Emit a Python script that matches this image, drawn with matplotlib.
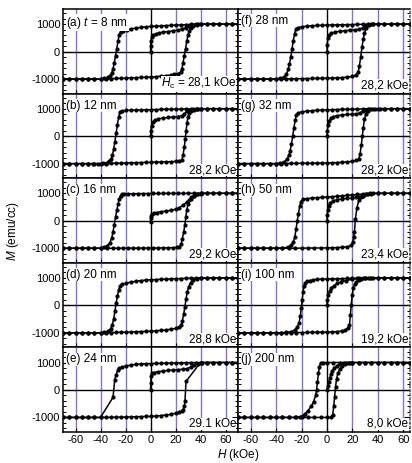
import matplotlib
matplotlib.use("Agg")
import matplotlib.pyplot as plt
from matplotlib.ticker import MultipleLocator

plt.rcParams['font.family'] = ['Liberation Sans', 'DejaVu Sans']
plt.rcParams['mathtext.fontset'] = 'custom'
plt.rcParams['mathtext.rm'] = 'Liberation Sans'
plt.rcParams['mathtext.it'] = 'Liberation Sans:italic'
plt.rcParams['axes.unicode_minus'] = False

# ---- data, (H kOe, M emu/cc) ----
# (a) 8 nm
a_down = [(70,1000),(65,1000),(60,1000),(55,1000),(50,1000),(45,1000),(40,1000),(36,998),(32,990),(28,980),(24,972),(20,965),(16,955),(12,945),(8,935),(4,925),(0,915),(-4,900),(-8,880),(-12,855),(-16,820),(-19,790),(-22,760),(-24,720),(-25,620),(-26,380),(-27,100),(-28,-150),(-29,-420),(-30,-630),(-31,-780),(-32.5,-880),(-34,-940),(-37,-980),(-40,-1000),(-45,-1000),(-50,-1000),(-55,-1000),(-60,-1000),(-65,-1000),(-70,-1000)]
a_up = [(-70,-1000),(-65,-1000),(-60,-1000),(-55,-1000),(-50,-1000),(-45,-1000),(-40,-1000),(-36,-998),(-32,-990),(-28,-980),(-24,-972),(-20,-965),(-16,-958),(-12,-950),(-8,-942),(-4,-935),(0,-925),(4,-915),(8,-900),(12,-880),(16,-855),(19,-830),(22,-800),(24,-760),(25,-650),(26,-420),(27,-150),(28,100),(29,380),(30,600),(31,760),(32.5,870),(34,930),(37,975),(40,1000),(45,1000),(50,1000),(55,1000),(60,1000),(65,1000),(70,1000)]
a_init = [(0,0),(0.2,200),(0.5,400),(1,520),(2,590),(4,640),(7,680),(10,705),(14,730),(18,755),(22,785),(25,820),(28,870),(31,930),(34,975),(38,1000)]

# (b) 12 nm
b_down = [(70,1000),(65,1000),(60,1000),(55,1000),(50,1000),(45,1000),(40,1000),(36,998),(32,995),(28,990),(24,988),(20,985),(16,982),(12,978),(8,975),(4,970),(0,965),(-4,960),(-8,955),(-12,950),(-16,945),(-20,935),(-23,920),(-24.5,880),(-25.5,700),(-26.5,400),(-27.5,100),(-28.5,-200),(-29.5,-480),(-30.5,-700),(-31.5,-840),(-33,-920),(-35,-960),(-38,-990),(-42,-1000),(-46,-1000),(-50,-1000),(-55,-1000),(-60,-1000),(-65,-1000),(-70,-1000)]
b_up = [(-70,-1000),(-65,-1000),(-60,-1000),(-55,-1000),(-50,-1000),(-45,-1000),(-40,-1000),(-36,-995),(-32,-990),(-28,-985),(-24,-980),(-20,-975),(-16,-970),(-12,-965),(-8,-960),(-4,-955),(0,-950),(4,-945),(8,-940),(12,-935),(16,-930),(20,-920),(23,-905),(25,-870),(26,-700),(27,-400),(27.8,-100),(28.5,200),(29.2,480),(30,700),(31,850),(32.5,930),(34.5,970),(37,990),(40,1000),(45,1000),(50,1000),(55,1000),(60,1000),(65,1000),(70,1000)]
b_init = [(0,0),(0.3,200),(0.8,380),(1.8,500),(3.5,580),(6,630),(10,660),(14,680),(18,695),(22,715),(25,750),(27,810),(29,900),(31,960),(34,995),(38,1000)]

# (c) 16 nm
c_down = [(70,1000),(65,1000),(60,1000),(55,1000),(50,1000),(45,1000),(40,1000),(35,1000),(30,1000),(26,998),(22,998),(18,997),(14,996),(10,995),(6,994),(2,993),(-2,992),(-6,990),(-10,988),(-14,985),(-18,980),(-21,975),(-23,960),(-24,920),(-25,800),(-26,600),(-27,380),(-28,120),(-29,-150),(-30,-400),(-31,-620),(-32.5,-800),(-34.5,-910),(-37,-965),(-40,-1000),(-45,-1000),(-50,-1000),(-55,-1000),(-60,-1000),(-65,-1000),(-70,-1000)]
c_up = [(-70,-1000),(-65,-1000),(-60,-1000),(-55,-1000),(-50,-1000),(-45,-1000),(-40,-1000),(-35,-1000),(-30,-1000),(-26,-998),(-22,-998),(-18,-997),(-14,-996),(-10,-995),(-6,-994),(-2,-993),(2,-992),(6,-990),(10,-988),(14,-985),(18,-980),(21,-972),(23,-950),(24.5,-850),(25.5,-650),(26.5,-420),(27.5,-150),(28.3,150),(29,400),(30,600),(31,740),(32.5,850),(34.5,920),(37,965),(40,990),(45,1000),(50,1000),(55,1000),(60,1000),(65,1000),(70,1000)]
c_init = [(0,-30),(0.2,100),(0.6,190),(1.5,240),(3,280),(5,300),(8,325),(12,350),(16,380),(20,420),(23,480),(26,570),(29,680),(32,790),(35,900),(38,970),(41,1000)]

# (d) 20 nm
d_down = [(70,1000),(65,1000),(60,1000),(55,1000),(50,1000),(45,1000),(40,1000),(36,995),(32,990),(28,985),(24,978),(20,970),(16,962),(12,955),(8,948),(4,940),(0,932),(-4,920),(-8,900),(-12,875),(-16,845),(-20,805),(-23,760),(-24.5,700),(-25.5,550),(-26.5,330),(-27.5,80),(-28.5,-220),(-29.5,-500),(-30.5,-700),(-32,-850),(-34,-940),(-37,-985),(-40,-1000),(-45,-1000),(-50,-1000),(-55,-1000),(-60,-1000),(-65,-1000),(-70,-1000)]
d_up = [(-70,-1000),(-65,-1000),(-60,-1000),(-55,-1000),(-50,-1000),(-45,-1000),(-40,-1000),(-36,-995),(-32,-990),(-28,-985),(-24,-980),(-20,-975),(-16,-970),(-12,-962),(-8,-955),(-4,-948),(0,-940),(4,-928),(8,-912),(12,-895),(16,-870),(20,-840),(23,-790),(24.5,-720),(25.5,-560),(26.5,-330),(27.5,-50),(28.5,250),(29.5,500),(30.5,680),(32,820),(34,920),(37,975),(40,1000),(45,1000),(50,1000),(55,1000),(60,1000),(65,1000),(70,1000)]
d_init = []

# (e) 24 nm
e_down = [(70,1000),(65,1000),(60,1000),(55,1000),(50,1000),(45,1000),(40,1000),(36,998),(32,995),(28,992),(24,988),(20,985),(16,980),(12,975),(8,970),(4,965),(0,960),(-4,955),(-8,945),(-12,930),(-16,905),(-20,870),(-23,830),(-25,790),(-26,740),(-27.5,560),(-28.6,370),(-30,-270),(-40,-1000),(-45,-1000),(-50,-1000),(-55,-1000),(-60,-1000),(-65,-1000),(-70,-1000)]
e_up = [(-70,-1000),(-65,-1000),(-60,-1000),(-55,-1000),(-50,-1000),(-45,-1000),(-40,-1000),(-36,-998),(-32,-995),(-28,-992),(-24,-988),(-20,-985),(-16,-980),(-12,-975),(-8,-970),(-4,-965),(0,-960),(4,-950),(8,-935),(12,-915),(16,-890),(20,-850),(23,-800),(25,-770),(26,-730),(27,-600),(27.6,-390),(28.4,310),(40,1000),(45,1000),(50,1000),(55,1000),(60,1000),(65,1000),(70,1000)]
e_init = [(0,0),(0.2,250),(0.6,500),(1.5,600),(3,635),(6,665),(10,690),(14,710),(18,725),(22,740),(26,755),(29,775),(32,830),(35,900),(38,960),(41,1000)]

# (f) 28 nm
f_down = [(70,1000),(65,1000),(60,1000),(55,1000),(50,1000),(45,1000),(40,1000),(36,998),(32,995),(28,992),(24,988),(20,985),(16,980),(12,976),(8,972),(4,968),(0,963),(-4,957),(-8,950),(-12,940),(-16,925),(-20,900),(-23,870),(-24.5,820),(-25.5,650),(-26.5,400),(-27.5,100),(-28.5,-200),(-29.5,-450),(-30.5,-650),(-32,-830),(-34,-930),(-37,-980),(-40,-1000),(-45,-1000),(-50,-1000),(-55,-1000),(-60,-1000),(-65,-1000),(-70,-1000)]
f_up = [(-70,-1000),(-65,-1000),(-60,-1000),(-55,-1000),(-50,-1000),(-45,-1000),(-40,-1000),(-36,-998),(-32,-995),(-28,-992),(-24,-988),(-20,-985),(-16,-982),(-12,-978),(-8,-975),(-4,-972),(0,-968),(4,-962),(8,-955),(12,-945),(16,-930),(20,-905),(23,-850),(24.5,-760),(25.5,-520),(26.5,-200),(27.5,150),(28.5,450),(29.5,680),(31,860),(33,950),(36,990),(40,1000),(45,1000),(50,1000),(55,1000),(60,1000),(65,1000),(70,1000)]
f_init = [(0,0),(0.2,250),(0.6,480),(1.5,600),(3,660),(6,710),(10,740),(14,760),(18,775),(22,790),(25,810),(28,860),(30,920),(32,970),(35,1000)]

# (g) 32 nm
g_down = [(70,1000),(65,1000),(60,1000),(55,1000),(50,1000),(45,1000),(40,1000),(36,998),(32,995),(28,992),(24,988),(20,985),(16,980),(12,976),(8,970),(4,965),(0,960),(-4,952),(-8,942),(-12,928),(-16,910),(-20,885),(-22.5,850),(-24,780),(-25,600),(-26,300),(-27,0),(-28,-300),(-29,-530),(-30,-700),(-31.5,-840),(-33.5,-930),(-37,-980),(-40,-1000),(-45,-1000),(-50,-1000),(-55,-1000),(-60,-1000),(-65,-1000),(-70,-1000)]
g_up = [(-70,-1000),(-65,-1000),(-60,-1000),(-55,-1000),(-50,-1000),(-45,-1000),(-40,-1000),(-36,-998),(-32,-995),(-28,-992),(-24,-990),(-20,-988),(-16,-985),(-12,-982),(-8,-980),(-4,-978),(0,-975),(4,-968),(8,-960),(12,-950),(16,-938),(20,-915),(23,-880),(25,-830),(26,-650),(27,-330),(27.8,0),(28.5,300),(29.5,620),(30.5,800),(32,920),(34.5,975),(38,995),(42,1000),(46,1000),(50,1000),(55,1000),(60,1000),(65,1000),(70,1000)]
g_init = [(0,0),(0.3,200),(0.8,400),(1.8,560),(3.2,650),(5,710),(8,750),(12,775),(16,790),(20,800),(23,810),(26,850),(28,900),(30,960),(33,1000)]

# (h) 50 nm
h_down = [(70,1000),(65,1000),(60,1000),(55,1000),(50,1000),(45,1000),(40,1000),(36,995),(32,985),(28,972),(24,958),(20,942),(16,925),(12,908),(8,893),(4,878),(0,865),(-4,853),(-8,840),(-12,825),(-16,808),(-19,780),(-20.5,700),(-21.5,520),(-22.5,250),(-23.4,0),(-24.3,-300),(-25.3,-580),(-26.5,-780),(-28,-900),(-31,-965),(-35,-990),(-40,-1000),(-45,-1000),(-50,-1000),(-55,-1000),(-60,-1000),(-65,-1000),(-70,-1000)]
h_up = [(-70,-1000),(-65,-1000),(-60,-1000),(-55,-1000),(-50,-1000),(-45,-1000),(-40,-1000),(-35,-1000),(-30,-1000),(-25,-998),(-20,-996),(-15,-994),(-10,-992),(-5,-990),(0,-987),(4,-982),(8,-975),(12,-965),(16,-948),(19,-900),(20.3,-780),(21,-600),(21.6,-400),(22.4,80),(23.5,450),(25,750),(26.5,860),(28.2,920),(31,965),(35,990),(40,1000),(45,1000),(50,1000),(55,1000),(60,1000),(65,1000),(70,1000)]
h_init = [(0,0),(0.2,200),(0.6,400),(1.3,550),(2.5,650),(4.5,720),(8,770),(12,795),(16,815),(20,830),(23,850),(25.5,880),(28,920),(31,965),(34,995)]

# (i) 100 nm
i_down = [(70,1000),(65,1000),(60,1000),(55,1000),(50,1000),(45,1000),(40,1000),(36,998),(32,995),(28,992),(24,988),(20,984),(16,980),(12,975),(8,970),(4,965),(0,960),(-4,955),(-8,945),(-11,930),(-13.5,905),(-15.5,870),(-17,820),(-18,720),(-18.8,500),(-19.5,200),(-20.2,-100),(-21,-400),(-22,-640),(-23.5,-800),(-25.5,-900),(-28,-955),(-32,-985),(-36,-998),(-40,-1000),(-45,-1000),(-50,-1000),(-55,-1000),(-60,-1000),(-65,-1000),(-70,-1000)]
i_up = [(-70,-1000),(-65,-1000),(-60,-1000),(-55,-1000),(-50,-1000),(-45,-1000),(-40,-1000),(-36,-998),(-32,-995),(-28,-992),(-24,-990),(-20,-988),(-16,-985),(-12,-982),(-8,-980),(-4,-977),(0,-975),(4,-968),(8,-955),(12,-930),(14.5,-890),(16.3,-830),(17.7,-710),(18.4,-360),(19,0),(19.8,360),(20.8,650),(22,790),(23,860),(25,925),(27,960),(30,985),(34,997),(40,1000),(45,1000),(50,1000),(55,1000),(60,1000),(65,1000),(70,1000)]
i_init = [(0,0),(0.3,200),(1,380),(2,520),(3.5,630),(5.5,720),(8,800),(11,850),(15,900),(20,950),(25,980),(30,995),(35,1000)]

# (j) 200 nm
j_down = [(70,1000),(65,1000),(60,1000),(55,1000),(50,1000),(45,1000),(40,1000),(35,1000),(30,1000),(25,1000),(20,1000),(15,1000),(10,1000),(5,1000),(0,1000),(-3,1000),(-5,990),(-6,850),(-6.7,600),(-7.5,300),(-8.2,0),(-9,-200),(-10.5,-420),(-12.5,-600),(-15,-750),(-17,-860),(-19,-930),(-21,-970),(-24,-1000),(-30,-1000),(-35,-1000),(-40,-1000),(-45,-1000),(-50,-1000),(-55,-1000),(-60,-1000),(-65,-1000),(-70,-1000)]
j_up = [(-70,-1000),(-65,-1000),(-60,-1000),(-55,-1000),(-50,-1000),(-45,-1000),(-40,-1000),(-35,-1000),(-30,-1000),(-25,-1000),(-20,-1000),(-15,-1000),(-10,-1000),(-5,-1000),(0,-1000),(3,-1000),(4.5,-900),(5.3,-600),(6,-250),(6.7,100),(7.5,400),(8.5,600),(10,750),(12,860),(14,930),(17,975),(20,1000),(25,1000),(30,1000),(35,1000),(40,1000),(45,1000),(50,1000),(55,1000),(60,1000),(65,1000),(70,1000)]
j_init = [(0,0),(0.8,150),(1.5,300),(2.3,450),(3,570),(4,680),(5.5,790),(7.5,880),(10,940),(13,975),(17,995),(20,1000)]

panel_labels = ['(a) $t$ = 8 nm', '(b) 12 nm', '(c) 16 nm', '(d) 20 nm', '(e) 24 nm',
                '(f) 28 nm', '(g) 32 nm', '(h) 50 nm', '(i) 100 nm', '(j) 200 nm']
hc_labels = ['$H_{\\mathrm{c}}$ = 28,1 kOe', '28,2 kOe', '29,2 kOe', '28,8 kOe', '29.1 kOe',
             '28,2 kOe', '28,2 kOe', '23,4 kOe', '19,2 kOe', '8,0 kOe']
x_ticks = [-60, -40, -20, 0, 20, 40, 60]
y_ticks = [-1000, 0, 1000]

curves = [(a_down, a_up, a_init), (b_down, b_up, b_init), (c_down, c_up, c_init),
          (d_down, d_up, d_init), (e_down, e_up, e_init), (f_down, f_up, f_init),
          (g_down, g_up, g_init), (h_down, h_up, h_init), (i_down, i_up, i_init),
          (j_down, j_up, j_init)]

W, H = 412, 463
fig = plt.figure(figsize=(W / 100, H / 100), dpi=100)

top, row_h = 9, 84.6
cols = [(63, 175, (-70, 70)), (238, 172, (-70, 65.3))]
grid_blue = '#7878d2'

for k in range(10):
    col, row = divmod(k, 5)
    left, width, xlim = cols[col]
    y0 = top + (row + 1) * row_h
    ax = fig.add_axes([left / W, 1 - y0 / H, width / W, row_h / H])
    ax.set_xlim(*xlim)
    ax.set_ylim(-1530, 1550)

    for v in x_ticks:
        if v == 0:
            ax.axvline(v, color='black', lw=1.0, zorder=1)
        else:
            ax.axvline(v, color=grid_blue, lw=1.0, zorder=1)
    ax.axhline(0, color='black', lw=1.0, zorder=1)

    for branch in curves[k]:
        if not branch:
            continue
        hs = [p[0] for p in branch]
        ms = [p[1] for p in branch]
        ax.plot(hs, ms, '-o', color='black', lw=1.1, ms=2.0, zorder=3)

    ax.set_xticks(x_ticks)
    ax.set_yticks(y_ticks)
    ax.yaxis.set_minor_locator(MultipleLocator(200))
    ax.tick_params(axis='y', which='both', direction='in', left=True, right=True)
    ax.tick_params(axis='y', which='major', length=4, width=0.8)
    ax.tick_params(axis='y', which='minor', length=2.5, width=0.7)
    ax.tick_params(axis='x', direction='in', length=3, width=0.8, top=False)
    ax.tick_params(labelsize=8, pad=2)
    if col == 1:
        ax.set_yticklabels([])
        ax.spines['right'].set_linestyle(':')
        ax.spines['right'].set_color('#555555')
    if row != 4:
        ax.set_xticklabels([])
    for s in ax.spines.values():
        s.set_linewidth(1.1)

    ax.text(0.02, 0.93, panel_labels[k], transform=ax.transAxes,
            ha='left', va='top', fontsize=8.5, zorder=5,
            bbox=dict(facecolor='white', edgecolor='none', pad=0.3))
    ax.text(0.99, 0.025, hc_labels[k], transform=ax.transAxes,
            ha='right', va='bottom', fontsize=8.5, zorder=5,
            bbox=dict(facecolor='white', edgecolor='none', pad=0.2))

fig.text(13 / W, 1 - 231 / H, '$M$ (emu/cc)', rotation=90, ha='center', va='center', fontsize=8.5)
fig.text(238 / W, 1 - 455 / H, '$H$ (kOe)', ha='center', va='center', fontsize=8.5)

fig.savefig('out.png', dpi=100)
